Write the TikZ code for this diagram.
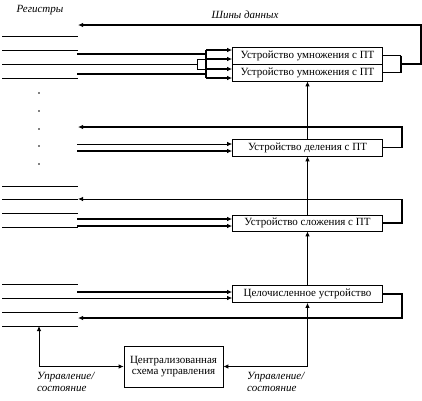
\documentclass[tikz,border=0pt]{standalone}
\usepackage{fontspec}
\setmainfont{Liberation Serif}
\usetikzlibrary{arrows.meta}

\begin{document}
\begin{tikzpicture}[x=1pt,y=1pt,yscale=-1,
  unit/.style={draw,line width=0.7pt,minimum width=150pt,minimum height=17pt,inner sep=0pt,font=\fontsize{11}{12}\selectfont},
  bus/.style={line width=1.8pt},
  wire/.style={line width=0.8pt},
  feed/.style={line width=1.3pt},
  tip/.style={-{Latex[length=5pt,width=4.5pt]}},
  lbl/.style={font=\itshape\fontsize{11}{12}\selectfont,inner sep=0pt}]
\useasboundingbox (0,0) rectangle (422,400);
\node[unit] (mulA) at (307.5,55.5) {Устройство умножения с ПТ};
\node[unit] (mulB) at (307.5,72.5) {Устройство умножения с ПТ};
\node[unit] (div) at (307.5,147.5) {Устройство деления с ПТ};
\node[unit,minimum height=16pt] (add) at (307.5,223) {Устройство сложения с ПТ};
\node[unit] (int) at (307.5,294) {Целочисленное устройство};
\node[draw,line width=0.7pt,minimum width=99pt,minimum height=41pt,inner sep=0pt,align=center,font=\fontsize{11}{11.5}\selectfont] (ctrl) at (173.5,366.5) {Централизованная\\схема управления};
\node[lbl] (regs) at (40,10) {Регистры};
\node[lbl] (buses) at (245,15) {Шины данных};
\node[lbl,align=left,anchor=north west] (csL) at (37,372) {Управление/\\состояние};
\node[lbl,align=left,anchor=north west] (csR) at (247,372) {Управление/\\состояние};
\foreach \y in {36,50,64,78,186,199,213,227,284,298,312,326}
  \draw[wire] (2,\y) -- (78,\y);
\foreach \y in {93,111,129,146,164}
  \fill (39,\y) circle (0.8);
\coordinate (mOut) at (401,64);
\draw[wire] (mulA.east) -- (mulA.east -| mOut);
\draw[bus] (mulB.east) -- (mulB.east -| mOut);
\draw[bus] (mulA.east -| mOut) -- (mulB.east -| mOut);
\draw[bus,tip] (mOut) -- ++(20,0) |- (78,25);
\draw[bus] (77,54) -- (206,54);
\draw[wire] (78,64) -- (197,64);
\draw[bus] (77,74) -- (206,74);
\draw[bus] (206,50) -- (206,78);
\draw[wire] (197,59) -- (197,69);
\foreach \y in {50,59} \draw[feed,tip] (197,\y -| 206,0) -- (mulA.west |- 0,\y);
\foreach \y in {69,78} \draw[feed,tip] (197,\y -| 206,0) -- (mulB.west |- 0,\y);
\draw[wire] (197,59) -- (206,59);
\draw[wire] (197,69) -- (206,69);
\draw[bus,tip] (div.east) -- ++(19,0) |- (78,127);
\draw[wire,tip] (77,144) -- (div.west |- 0,144);
\draw[bus,tip] (77,151) -- (div.west |- 0,151);
\draw[bus] (add.east) -- ++(19,0) coordinate (aOut) -- (aOut |- 0,199);
\draw[wire,tip] (aOut |- 0,199) -- (78,199);
\draw[bus,tip] (77,219) -- (add.west |- 0,219);
\draw[bus,tip] (77,226) -- (add.west |- 0,226);
\draw[bus,tip] (int.east) -- ++(19,0) |- (78,318);
\draw[bus,tip] (77,292) -- (int.west |- 0,292);
\draw[wire,tip] (78,298) -- (int.west |- 0,298);
\draw[wire,tip] (div.north) -- (mulB.south);
\draw[wire,tip] (add.north) -- (div.south);
\draw[wire,tip] (int.north) -- (add.south);
\coordinate (cR) at (int.south |- ctrl.east);
\draw[wire,tip] (cR) -- (ctrl.east);
\draw[wire,tip] (cR) -- (int.south);
\coordinate (cL) at (39,366.5);
\draw[wire,tip] (cL) -- (ctrl.west);
\draw[wire,tip] (cL) -- (39,326);
\end{tikzpicture}
\end{document}
